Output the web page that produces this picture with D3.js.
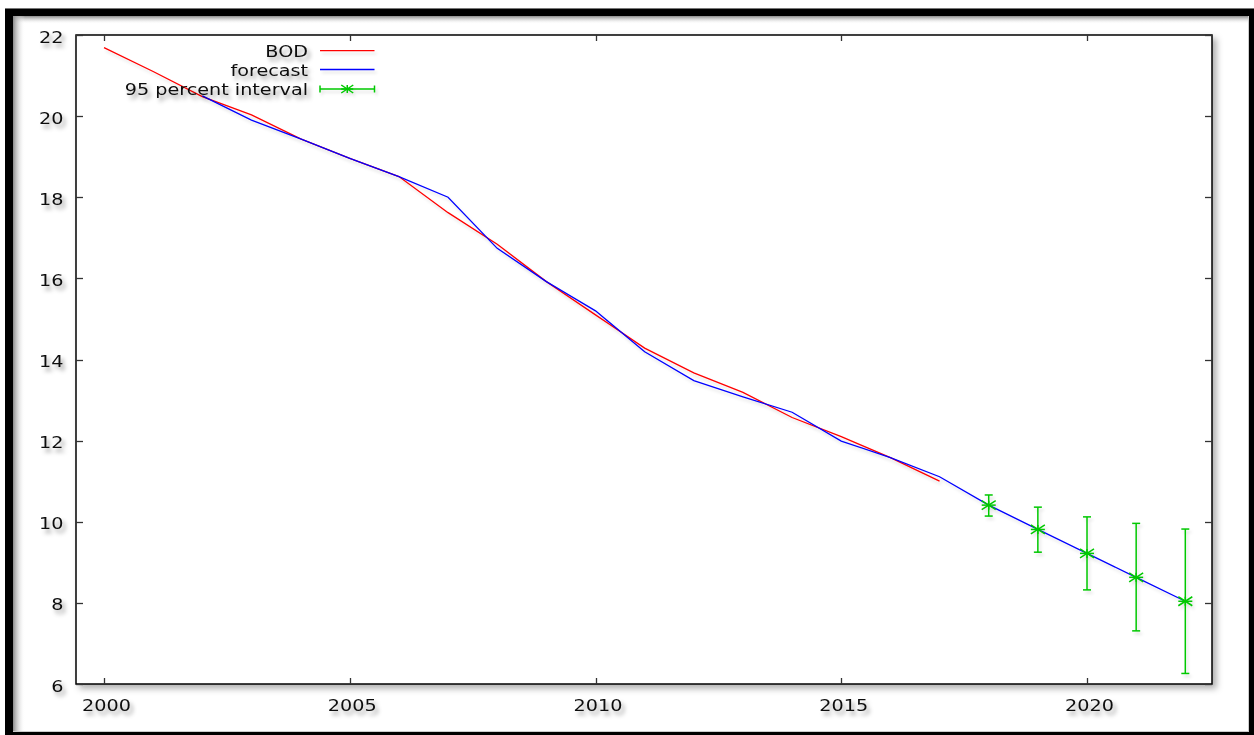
<!DOCTYPE html>
<html>
<head>
<meta charset="utf-8">
<script src="https://cdn.jsdelivr.net/npm/d3@7/dist/d3.min.js"></script>
<style>
  html, body { margin: 0; padding: 0; background: #fff; }
  svg { display: block; }
  text { font-family: "DejaVu Sans", sans-serif; font-size: 16px; fill: #111; }
</style>
</head>
<body>
<svg id="chart" width="1254" height="735"></svg>
<script>
// Observed BOD series
const bodYears = [2000, 2001, 2002, 2003, 2004, 2005, 2006, 2007, 2008, 2009, 2010, 2011, 2012, 2013, 2014, 2015, 2016, 2017];
const bodValues = [21.69, 21.1, 20.48, 20.03, 19.44, 18.96, 18.51, 17.62, 16.84, 15.92, 15.10, 14.28, 13.67, 13.19, 12.57, 12.10, 11.58, 11.00];

// Fitted values and forecast
const forecastYears = [2002, 2003, 2004, 2005, 2006, 2007, 2008, 2009, 2010, 2011, 2012, 2013, 2014, 2015, 2016, 2017, 2018, 2019, 2020, 2021, 2022];
const forecastValues = [20.50, 19.90, 19.44, 18.96, 18.51, 18.00, 16.74, 15.92, 15.20, 14.19, 13.48, 13.08, 12.70, 11.99, 11.58, 11.11, 10.41, 9.81, 9.22, 8.63, 8.04];

// 95 percent interval of the forecast
const intervalYears = [2018, 2019, 2020, 2021, 2022];
const intervalCenter = [10.41, 9.81, 9.22, 8.63, 8.04];
const intervalLower = [10.14, 9.25, 8.32, 7.31, 6.26];
const intervalUpper = [10.66, 10.36, 10.12, 9.96, 9.82];

// Axis ticks
const xTicks = [2000, 2005, 2010, 2015, 2020];
const yTicks = [6, 8, 10, 12, 14, 16, 18, 20, 22];

const legendLabels = ["BOD", "forecast", "95 percent interval"];

const colors = { bod: "#ff0000", forecast: "#0000ff", interval: "#00c800" };

const svg = d3.select("#chart");
const W = 1254, H = 735;
const plot = { left: 76, right: 1212, top: 35, bottom: 684 };
const textScale = 1.2;

const x = d3.scaleLinear().domain([1999.43, 2022.543]).range([plot.left, plot.right]);
const y = d3.scaleLinear().domain([6, 22]).range([plot.bottom, plot.top]);

// ---- filters and gradients ----
const defs = svg.append("defs");
function shadow(id, dx, dy, sd, op) {
  const f = defs.append("filter").attr("id", id)
    .attr("x", "-20%").attr("y", "-40%").attr("width", "160%").attr("height", "200%");
  f.append("feDropShadow").attr("dx", dx).attr("dy", dy).attr("stdDeviation", sd)
    .attr("flood-color", "#000").attr("flood-opacity", op);
}
shadow("textShadow", 3, 4, 2.2, 0.38);
shadow("lineShadow", 2, 3, 1.5, 0.12);
shadow("frameShadow", 4, 4, 3, 0.3);

const gTop = defs.append("linearGradient").attr("id", "innerTop").attr("x1", 0).attr("y1", 0).attr("x2", 0).attr("y2", 1);
gTop.append("stop").attr("offset", "0%").attr("stop-color", "#8a8a8a");
gTop.append("stop").attr("offset", "100%").attr("stop-color", "#fff").attr("stop-opacity", 0);
const gLeft = defs.append("linearGradient").attr("id", "innerLeft").attr("x1", 0).attr("y1", 0).attr("x2", 1).attr("y2", 0);
gLeft.append("stop").attr("offset", "0%").attr("stop-color", "#8a8a8a");
gLeft.append("stop").attr("offset", "100%").attr("stop-color", "#fff").attr("stop-opacity", 0);

// ---- outer frame ----
svg.append("rect").attr("x", 0).attr("y", 0).attr("width", W).attr("height", H).attr("fill", "#fff");
svg.append("rect").attr("x", 5).attr("y", 8).attr("width", 1256).attr("height", 736).attr("fill", "#000");
svg.append("line").attr("x1", 5).attr("x2", W).attr("y1", 8.5).attr("y2", 8.5).attr("stroke", "#777").attr("stroke-width", 1);
svg.append("rect").attr("x", 13).attr("y", 16).attr("width", 1236).attr("height", 716).attr("fill", "#fff");
svg.append("rect").attr("x", 13).attr("y", 16).attr("width", 1236).attr("height", 8).attr("fill", "url(#innerTop)");
svg.append("rect").attr("x", 13).attr("y", 16).attr("width", 12).attr("height", 716).attr("fill", "url(#innerLeft)");
svg.append("line").attr("x1", 1248.5).attr("x2", 1248.5).attr("y1", 16).attr("y2", 732).attr("stroke", "#ccc");
svg.append("line").attr("x1", 13).attr("x2", 1249).attr("y1", 731.5).attr("y2", 731.5).attr("stroke", "#ccc");

// ---- plot border ----
svg.append("rect")
  .attr("x", plot.left).attr("y", plot.top)
  .attr("width", plot.right - plot.left).attr("height", plot.bottom - plot.top)
  .attr("fill", "#fff").attr("stroke", "#000").attr("stroke-width", 1.5)
  .attr("filter", "url(#frameShadow)");

// ---- ticks (inward, mirrored on all sides) ----
const ticksG = svg.append("g").attr("stroke", "#333").attr("stroke-width", 1.3);
const tickLen = 6;
xTicks.forEach(t => {
  const px = Math.round(x(t)) + 0.5;
  ticksG.append("line").attr("x1", px).attr("x2", px).attr("y1", plot.bottom).attr("y2", plot.bottom - tickLen);
  ticksG.append("line").attr("x1", px).attr("x2", px).attr("y1", plot.top).attr("y2", plot.top + tickLen);
});
yTicks.forEach(t => {
  const py = Math.round(y(t)) + 0.5;
  ticksG.append("line").attr("x1", plot.left).attr("x2", plot.left + tickLen + 1).attr("y1", py).attr("y2", py);
  ticksG.append("line").attr("x1", plot.right).attr("x2", plot.right - tickLen - 1).attr("y1", py).attr("y2", py);
});

// ---- tick labels ----
const labelsG = svg.append("g").attr("filter", "url(#textShadow)");
function label(g, px, py, anchor, str) {
  g.append("g").attr("transform", `translate(${px},${py}) scale(${textScale},1)`)
    .append("text").attr("text-anchor", anchor).text(str);
}
xTicks.forEach(t => label(labelsG, x(t) + 2.5, 710.5, "middle", t));
yTicks.forEach(t => label(labelsG, 63.5, y(t) + 7.5, "end", t));

// ---- series ----
const line = d3.line().x(d => x(d[0])).y(d => y(d[1]));
const seriesG = svg.append("g").attr("filter", "url(#lineShadow)").attr("fill", "none");

seriesG.append("path")
  .datum(bodYears.map((yr, i) => [yr, bodValues[i]]))
  .attr("d", line).attr("stroke", colors.bod).attr("stroke-width", 1.3);

seriesG.append("path")
  .datum(forecastYears.map((yr, i) => [yr, forecastValues[i]]))
  .attr("d", line).attr("stroke", colors.forecast).attr("stroke-width", 1.3);

// error bars with star markers
function star(g, cx, cy, hw, hh) {
  g.append("line").attr("x1", cx - hw).attr("x2", cx + hw).attr("y1", cy).attr("y2", cy);
  g.append("line").attr("x1", cx).attr("x2", cx).attr("y1", cy - hh).attr("y2", cy + hh);
  g.append("line").attr("x1", cx - hw).attr("x2", cx + hw).attr("y1", cy - hh).attr("y2", cy + hh);
  g.append("line").attr("x1", cx - hw).attr("x2", cx + hw).attr("y1", cy + hh).attr("y2", cy - hh);
}
const errG = seriesG.append("g").attr("stroke", colors.interval).attr("stroke-width", 1.5);
const capW = 4;
intervalYears.forEach((yr, i) => {
  const cx = x(yr);
  const yl = y(intervalLower[i]), yu = y(intervalUpper[i]);
  errG.append("line").attr("x1", cx).attr("x2", cx).attr("y1", yl).attr("y2", yu);
  errG.append("line").attr("x1", cx - capW).attr("x2", cx + capW).attr("y1", yu).attr("y2", yu);
  errG.append("line").attr("x1", cx - capW).attr("x2", cx + capW).attr("y1", yl).attr("y2", yl);
  star(errG, cx, y(intervalCenter[i]), 7, 4.5);
});

// ---- legend ----
const legendG = svg.append("g");
const rowY = [50.7, 69.5, 89];
const sampleX1 = 320, sampleX2 = 374.5, textRight = 308;
const legendText = legendG.append("g").attr("filter", "url(#textShadow)");
legendLabels.forEach((s, i) => label(legendText, textRight, rowY[i] + 6, "end", s));
const legendMarks = legendG.append("g").attr("filter", "url(#lineShadow)").attr("fill", "none");
legendMarks.append("line").attr("x1", sampleX1).attr("x2", sampleX2).attr("y1", rowY[0]).attr("y2", rowY[0])
  .attr("stroke", colors.bod).attr("stroke-width", 1.3);
legendMarks.append("line").attr("x1", sampleX1).attr("x2", sampleX2).attr("y1", rowY[1]).attr("y2", rowY[1])
  .attr("stroke", colors.forecast).attr("stroke-width", 1.3);
const lg = legendMarks.append("g").attr("stroke", colors.interval).attr("stroke-width", 1.5);
lg.append("line").attr("x1", sampleX1).attr("x2", sampleX2).attr("y1", rowY[2]).attr("y2", rowY[2]);
lg.append("line").attr("x1", sampleX1).attr("x2", sampleX1).attr("y1", rowY[2] - 3.5).attr("y2", rowY[2] + 3.5);
lg.append("line").attr("x1", sampleX2).attr("x2", sampleX2).attr("y1", rowY[2] - 3.5).attr("y2", rowY[2] + 3.5);
star(lg, (sampleX1 + sampleX2) / 2, rowY[2], 6, 4);
</script>
</body>
</html>
